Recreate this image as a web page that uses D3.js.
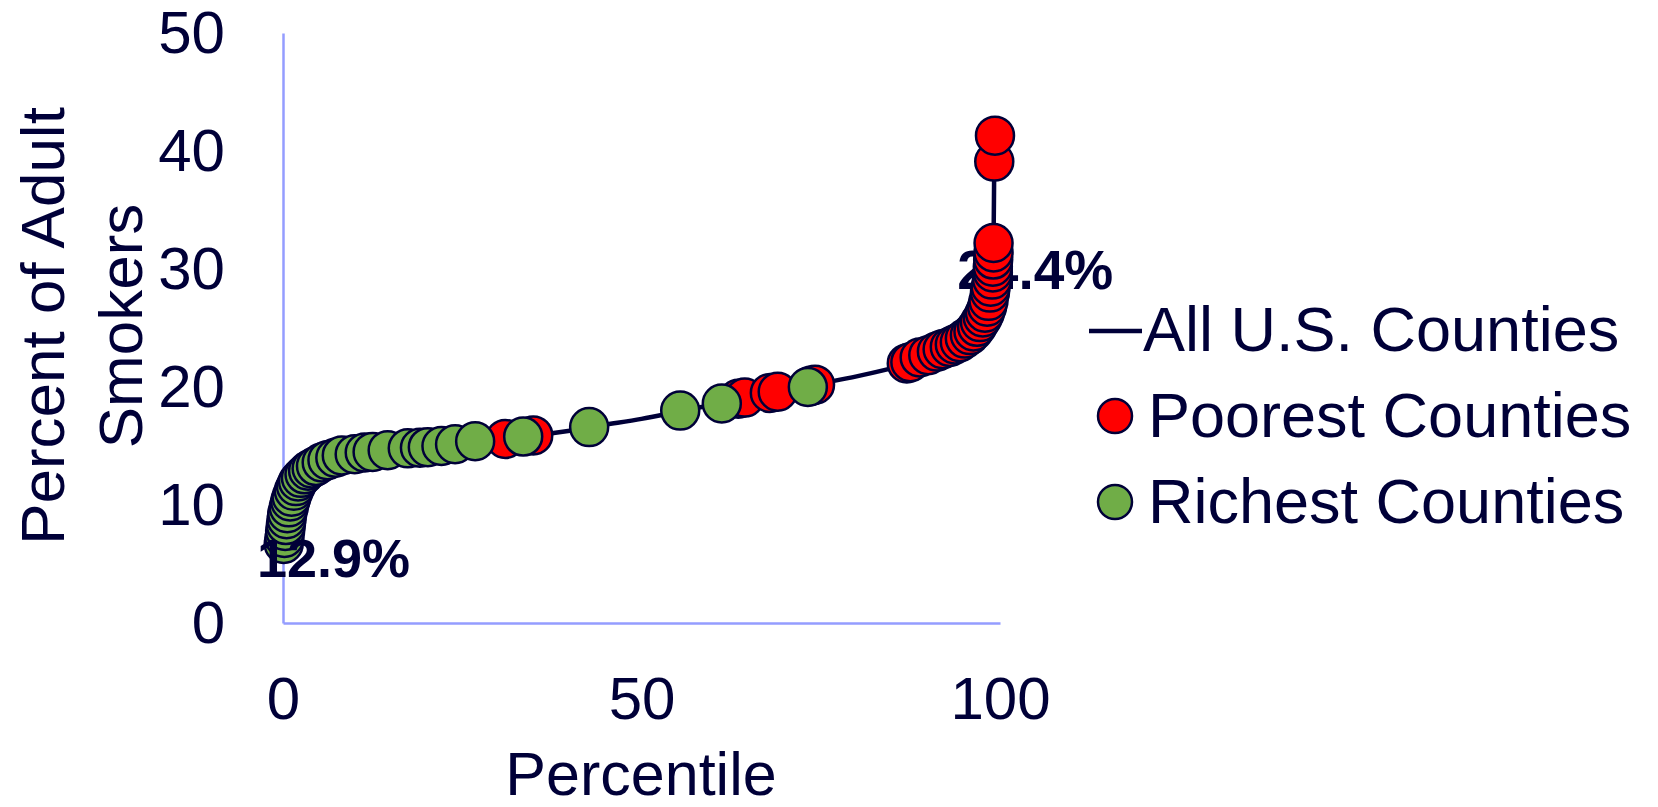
<!DOCTYPE html>
<html><head><meta charset="utf-8">
<script src="https://cdn.jsdelivr.net/npm/d3@7"></script>
<style>
html,body{margin:0;padding:0;background:#fff;}
svg{display:block;font-family:"Liberation Sans",Arial,sans-serif;}
</style></head>
<body>
<svg id="chart" width="1658" height="807"></svg>
<script>
// ---- data (percentile, percent of adult smokers) ----
const allPct = [0,0.3,0.6,1.0,1.7,2.6,4.0,5.4,7.3,10,15,20,25,30,35,40,45,50,55,60,65,70,75,80,85,87,89,91,93,94.5,96,97,97.7,98.2,98.6,98.9,99.0,99.1,99.2,99.3];
const allVal = [6.7,7.6,9.0,10.3,11.5,12.4,13.1,13.6,14.0,14.3,14.6,14.85,15.2,15.6,15.9,16.3,16.8,17.3,17.9,18.5,19.1,19.7,20.3,20.9,21.6,21.9,22.4,22.9,23.4,23.9,24.5,25.2,26.0,27.0,28.2,29.5,31.0,32.2,39.1,41.3];

const poorPct = [31.0,34.9,63.5,64.4,67.9,69.0,73.6,74.2,87.0,87.5,88.8,90.0,91.2,92.0,93.0,93.7,94.4,95.1,95.8,96.3,96.8,97.2,97.6,97.9,98.2,98.4,98.6,98.7,98.9,99.0,99.0,99.05,99.1,99.1,99.2,99.3];
const poorVal = [15.6,15.9,19.0,19.1,19.5,19.6,20.1,20.2,22.0,22.1,22.5,22.7,23.0,23.2,23.4,23.6,23.8,24.1,24.4,24.7,25.1,25.5,25.9,26.3,26.8,27.3,28.0,28.5,29.1,29.7,30.2,30.8,31.4,32.2,39.1,41.3];

const richPct = [0.1,0.2,0.3,0.4,0.5,0.6,0.8,1.0,1.2,1.5,1.8,2.1,2.5,3.0,3.5,4.0,4.6,5.4,6.2,7.3,8.2,10.0,11.4,12.5,14.6,17.4,19.1,20.2,22.1,24.0,26.8,33.5,42.7,55.4,61.2,73.2];
const richVal = [6.7,7.2,7.8,8.3,8.8,9.3,9.8,10.3,10.7,11.2,11.6,12.0,12.3,12.6,12.9,13.1,13.3,13.6,13.8,14.0,14.2,14.3,14.45,14.5,14.65,14.8,14.85,14.9,15.0,15.15,15.4,15.8,16.6,18.0,18.6,20.0];

const xTicks = [0,50,100];
const yTicks = [0,10,20,30,40,50];
const seriesNames = ["All U.S. Counties","Poorest Counties","Richest Counties"];
const labelLow = {p:0, v:6.7, text:"12.9%"};
const labelHigh = {p:99.2, v:32.2, text:"24.4%"};

// ---- drawing ----
const ink = "#000038";
const axisCol = "#949dff";
const svg = d3.select("#chart");
const x = d3.scaleLinear().domain([0,100]).range([283,1000]);
const y = d3.scaleLinear().domain([0,50]).range([623,33]);

const xa = svg.append("g").attr("transform","translate(0,623)")
  .call(d3.axisBottom(x).tickValues(xTicks).tickSize(0).tickSizeOuter(0).tickPadding(53));
const ya = svg.append("g").attr("transform","translate(283,0)")
  .call(d3.axisLeft(y).tickValues(yTicks).tickSize(0).tickSizeOuter(0).tickPadding(58));
[xa,ya].forEach(g=>{
  g.select(".domain").attr("stroke",axisCol).attr("stroke-width",2.5);
  g.selectAll("text").attr("fill",ink).attr("font-size",60).attr("font-family","Liberation Sans, Arial, sans-serif");
});

// axis titles
svg.append("text").attr("x",641).attr("y",795).attr("text-anchor","middle")
  .attr("fill",ink).attr("font-size",61).text("Percentile");
const yt = svg.append("text").attr("transform","translate(64,326) rotate(-90)")
  .attr("text-anchor","middle").attr("fill",ink).attr("font-size",62);
yt.append("tspan").attr("x",0).attr("y",0).text("Percent of Adult");
yt.append("tspan").attr("x",0).attr("y",78).text("Smokers");

// line
const lineData = allPct.map((p,i)=>[p,allVal[i]]);
svg.append("path").datum(lineData)
  .attr("d",d3.line().x(d=>x(d[0])).y(d=>y(d[1])).curve(d3.curveMonotoneX))
  .attr("fill","none").attr("stroke",ink).attr("stroke-width",4.5);

// high label (beneath red points)
svg.append("text").attr("x",x(labelHigh.p)-37).attr("y",y(labelHigh.v)+46)
  .attr("fill",ink).attr("font-size",55).attr("font-weight","bold").text(labelHigh.text);

const R = 19;
svg.append("g").selectAll("circle").data(poorPct.map((p,i)=>[p,poorVal[i]])).join("circle")
  .attr("cx",d=>x(d[0])).attr("cy",d=>y(d[1])).attr("r",R)
  .attr("fill","#ff0000").attr("stroke",ink).attr("stroke-width",2.5);
svg.append("g").selectAll("circle").data(richPct.map((p,i)=>[p,richVal[i]])).join("circle")
  .attr("cx",d=>x(d[0])).attr("cy",d=>y(d[1])).attr("r",R)
  .attr("fill","#70ad47").attr("stroke",ink).attr("stroke-width",2.5);

// low label
svg.append("text").attr("x",x(labelLow.p)-26).attr("y",y(labelLow.v)+33)
  .attr("fill",ink).attr("font-size",54).attr("font-weight","bold").text(labelLow.text);

// legend
const lg = svg.append("g");
lg.append("line").attr("x1",1089).attr("x2",1142).attr("y1",331).attr("y2",331)
  .attr("stroke",ink).attr("stroke-width",4.5);
lg.append("text").attr("x",1143).attr("y",351).attr("fill",ink).attr("font-size",63).text(seriesNames[0]);
lg.append("circle").attr("cx",1115).attr("cy",416).attr("r",17).attr("fill","#ff0000").attr("stroke",ink).attr("stroke-width",2.5);
lg.append("text").attr("x",1148).attr("y",437).attr("fill",ink).attr("font-size",63).text(seriesNames[1]);
lg.append("circle").attr("cx",1115).attr("cy",502).attr("r",17).attr("fill","#70ad47").attr("stroke",ink).attr("stroke-width",2.5);
lg.append("text").attr("x",1148).attr("y",523).attr("fill",ink).attr("font-size",63).text(seriesNames[2]);
</script>
</body></html>
